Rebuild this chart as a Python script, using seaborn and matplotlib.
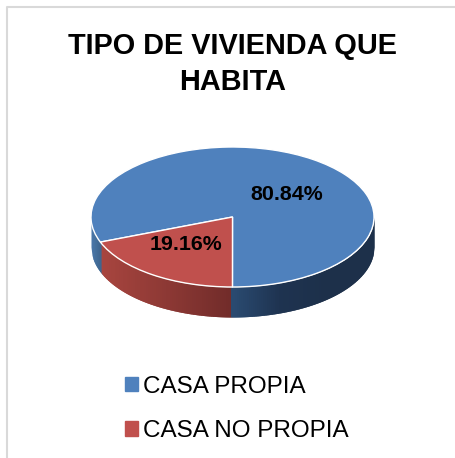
#!/usr/bin/env python3
# -*- coding: utf-8 -*-
"""Tipo de vivienda: pastel con efecto 3D"""

import numpy as np
import matplotlib
matplotlib.use('Agg')
import matplotlib.pyplot as plt
import seaborn as sns

categorias = ['CASA PROPIA', 'CASA NO PROPIA']
porcentajes = [80.84, 19.16]
etiquetas = ['80.84%', '19.16%']
titulo = 'TIPO DE VIVIENDA QUE\nHABITA'

AZUL = '#4F81BD'
ROJO = '#C0504D'

W, H = 455, 458
CX, CY, RX, RY = 232.5, 217, 141.5, 70
PROF = 30 / RY  # grosor del pastel en unidades del eje

sns.set_theme(style='white')
plt.rcParams['font.family'] = ['Liberation Sans', 'DejaVu Sans']

fig = plt.figure(figsize=(W / 100, H / 100), dpi=100)
fig.patch.set_facecolor('white')

# marco gris del grafico
marco = fig.add_axes([0, 0, 1, 1])
marco.set_xlim(0, W)
marco.set_ylim(H, 0)
marco.axis('off')
marco.plot([6.5, 6.5, W], [H, 6.5, 6.5], color='#d9d9d9', lw=1.5)

# eje del pastel: la elipse es un circulo con escalas distintas
ax = fig.add_axes([(CX - RX) / W, 1 - (CY + RY + 30) / H,
                   2 * RX / W, (2 * RY + 30) / H])
inicio = 90 - 249  # la porcion azul arranca a 249 grados desde arriba
wedges, _ = ax.pie(porcentajes, colors=[AZUL, ROJO], startangle=inicio,
                   counterclock=False, radius=1, center=(0, 0),
                   wedgeprops={'zorder': 3})
ax.set_aspect('auto')
ax.set_xlim(-1, 1)
ax.set_ylim(-1 - PROF, 1)

# pared lateral en tiras que se solapan, con degradado
fin_rojo = 180 + porcentajes[1] * 3.6  # angulo horario desde arriba
tiras = 140
x = np.linspace(-1, 1, tiras + 1)
paso = x[1] - x[0]
x_corte = np.sin(np.radians(fin_rojo))
x_frente = -0.015  # el corte frontal de la pared cae algo a la izquierda
pal_azul_izq = sns.blend_palette(['#4a77a8', '#3f668f'], 12)
pal_rojo = sns.blend_palette(['#a8453f', '#722c2a'], tiras)
pal_azul = sns.blend_palette(['#2a4a70', '#1e3350', '#1d304a', '#1d304a'], tiras)
for i in range(tiras):
    xa, xb = x[i], min(x[i + 1] + paso, 1)
    xs = np.linspace(xa, xb, 5)
    ys = -np.sqrt(np.clip(1 - xs ** 2, 0, 1))
    xm = xa + paso / 2
    if xm < x_corte:
        color = pal_azul_izq[min(int((xm + 1) / (x_corte + 1) * 12), 11)]
    elif xm < x_frente:
        color = pal_rojo[int((xm - x_corte) / (x_frente - x_corte) * tiras)]
    else:
        color = pal_azul[min(int(max(xm, 0) * tiras), tiras - 1)]
    ax.fill_between(xs, ys - PROF, ys, color=color, lw=0, zorder=1 + i * 0.001)

# etiquetas de porcentaje
ax.text(0.383, 0.317, etiquetas[0], ha='center', va='center', fontsize=15.4,
        fontweight='bold', color='black', zorder=5)
ax.text(-0.33, -0.40, etiquetas[1], ha='center', va='center', fontsize=15.4,
        fontweight='bold', color='black', zorder=5)

fig.text(232.5 / W, 1 - 46 / H, titulo.split('\n')[0], ha='center', va='center',
         fontsize=20.8, fontweight='bold', color='black')
fig.text(232.5 / W, 1 - 82 / H, titulo.split('\n')[1], ha='center', va='center',
         fontsize=20.8, fontweight='bold', color='black')

handles = [plt.Rectangle((0, 0), 1, 1, color=c) for c in [AZUL, ROJO]]
fig.legend(handles, categorias, loc='center left',
           bbox_to_anchor=(125 / W, 1 - 409 / H), frameon=False, fontsize=17.45,
           handlelength=0.53, handleheight=0.53, handletextpad=0.2,
           labelspacing=0.92, borderpad=0, borderaxespad=0, labelcolor='black')

fig.savefig('out.png', dpi=100, facecolor='white')
plt.close(fig)
